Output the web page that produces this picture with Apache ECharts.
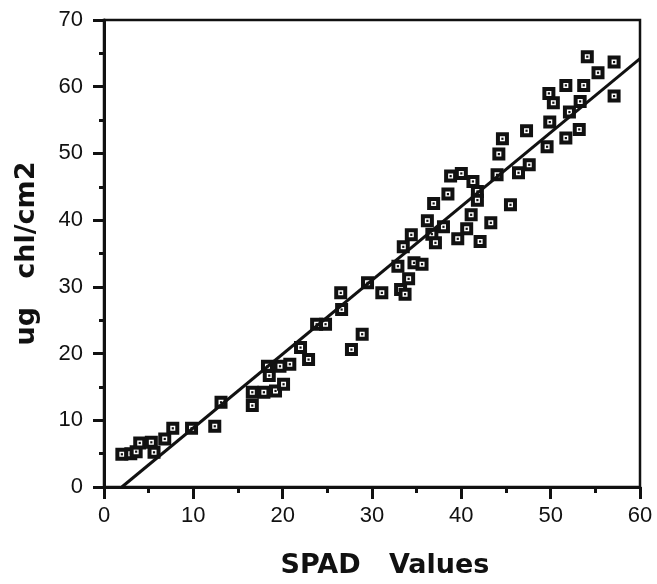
<!DOCTYPE html>
<html>
<head>
<meta charset="utf-8">
<script src="https://cdn.jsdelivr.net/npm/echarts@6/dist/echarts.min.js"></script>
<style>
  html, body { margin: 0; padding: 0; background: #fff; }
  #chart { width: 657px; height: 584px; }
</style>
</head>
<body>
<div id="chart"></div>
<script>
// SPAD reading (x) and chlorophyll content in ug chl/cm2 (y)
const spadValues = [
  2.0, 3.0, 3.6, 4.0, 5.3, 5.6, 6.8, 7.7, 9.8, 12.4, 13.1,
  16.6, 16.6, 17.9, 18.3, 18.5, 19.2, 19.7, 20.1, 20.8, 22.0, 22.9,
  23.8, 24.8, 26.5, 26.6, 27.7, 28.9, 29.5, 31.1,
  32.9, 33.2, 33.5, 33.7, 34.1, 34.4, 34.7, 35.6, 36.2, 36.7, 36.9, 37.1,
  38.0, 38.5, 38.8, 39.6, 40.0, 40.6, 41.1, 41.3, 41.8, 41.8, 42.1, 43.3,
  44.0, 44.2, 44.6, 45.5, 46.4, 47.3, 47.6,
  49.6, 49.8, 49.9, 50.3, 51.7, 51.7, 52.1, 53.2, 53.3, 53.7, 54.1, 55.3,
  57.1, 57.1
];
const chlValues = [
  4.9, 5.0, 5.3, 6.6, 6.7, 5.2, 7.2, 8.8, 8.8, 9.1, 12.7,
  12.2, 14.2, 14.2, 18.1, 16.7, 14.4, 18.1, 15.4, 18.4, 20.9, 19.1,
  24.4, 24.4, 29.1, 26.6, 20.6, 22.9, 30.6, 29.1,
  33.1, 29.6, 36.0, 28.9, 31.2, 37.8, 33.6, 33.4, 39.9, 37.9, 42.5, 36.6,
  39.0, 43.9, 46.6, 37.2, 47.0, 38.7, 40.8, 45.8, 44.3, 43.0, 36.8, 39.6,
  46.8, 49.9, 52.2, 42.3, 47.1, 53.4, 48.3,
  51.0, 59.0, 54.7, 57.6, 52.3, 60.2, 56.2, 53.6, 57.8, 60.2, 64.5, 62.1,
  63.7, 58.6
];
// Regression line end points (x, y)
const fitX = [2.0, 60];
const fitY = [0, 64.2];

const xTicks = [0, 10, 20, 30, 40, 50, 60];
const yTicks = [0, 10, 20, 30, 40, 50, 60, 70];

const points = spadValues.map((x, i) => [x, chlValues[i]]);
const fitLine = fitX.map((x, i) => [x, fitY[i]]);

const chart = echarts.init(document.getElementById('chart'), null, { renderer: 'canvas' });
const ink = '#111';
const tickFont = { fontFamily: 'Liberation Sans', fontSize: 22, color: ink };

chart.setOption({
  animation: false,
  backgroundColor: '#fff',
  grid: {
    left: 104, right: 17, top: 20, bottom: 96,
    show: true, borderColor: ink, borderWidth: 2.5, backgroundColor: 'transparent'
  },
  xAxis: {
    type: 'value',
    min: xTicks[0], max: xTicks[xTicks.length - 1], interval: 10,
    name: 'SPAD   Values',
    nameLocation: 'middle',
    nameGap: 65,
    nameTextStyle: { fontFamily: 'DejaVu Sans', fontWeight: 'bold', fontSize: 27, color: ink, padding: [0, 0, 0, 26] },
    axisLine: { show: true, lineStyle: { color: ink, width: 3 } },
    axisTick: { show: true, inside: false, length: 12, lineStyle: { color: ink, width: 3 } },
    minorTick: { show: true, splitNumber: 2, length: 6, lineStyle: { color: ink, width: 3 } },
    axisLabel: Object.assign({ margin: 18, formatter: v => String(v) }, tickFont),
    splitLine: { show: false },
    minorSplitLine: { show: false }
  },
  yAxis: {
    type: 'value',
    min: yTicks[0], max: yTicks[yTicks.length - 1], interval: 10,
    name: 'ug   chl/cm2',
    nameLocation: 'middle',
    nameGap: 64,
    nameRotate: 90,
    nameTextStyle: { fontFamily: 'DejaVu Sans', fontWeight: 'bold', fontSize: 27, color: ink },
    axisLine: { show: true, lineStyle: { color: ink, width: 3 } },
    axisTick: { show: true, inside: false, length: 11, lineStyle: { color: ink, width: 3 } },
    minorTick: { show: true, splitNumber: 2, length: 5, lineStyle: { color: ink, width: 3 } },
    axisLabel: Object.assign({ margin: 21, formatter: v => String(v) }, tickFont),
    splitLine: { show: false },
    minorSplitLine: { show: false }
  },
  series: [
    {
      type: 'scatter',
      data: points,
      symbol: 'rect',
      symbolSize: 9,
      itemStyle: { color: '#fff', borderColor: ink, borderWidth: 4, opacity: 1 },
      z: 2
    },
    {
      type: 'scatter',
      data: points,
      symbol: 'rect',
      symbolSize: 2.2,
      itemStyle: { color: ink, opacity: 1 },
      z: 3,
      silent: true
    },
    {
      type: 'line',
      data: fitLine,
      showSymbol: false,
      symbol: 'none',
      lineStyle: { color: ink, width: 3 },
      z: 4
    }
  ]
});
</script>
</body>
</html>
